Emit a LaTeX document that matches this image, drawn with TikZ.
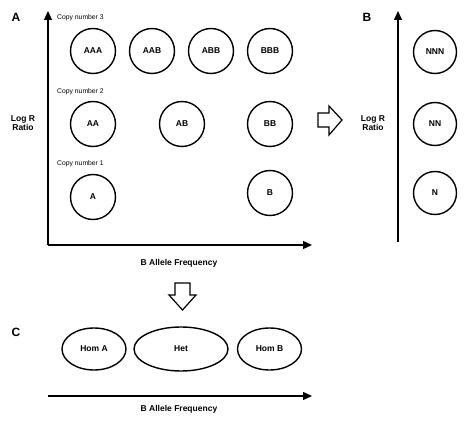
\documentclass[tikz,border=0pt]{standalone}
\usepackage{fontspec}
\setmainfont{Liberation Sans}
\usetikzlibrary{shapes.geometric,arrows.meta}
\begin{document}
\begin{tikzpicture}[x=1pt,y=-1pt,
  circ/.style={draw,circle,line width=1.4pt,minimum size=45pt,inner sep=0pt,font=\fontsize{8.5}{9}\selectfont\bfseries},
  circb/.style={circ,minimum size=43pt},
  ell/.style={draw,ellipse,line width=1.4pt,inner sep=0pt,font=\fontsize{8.5}{9}\selectfont\bfseries},
  axis/.style={line width=1.4pt,-{Triangle[length=9pt,width=8pt]}},
  lab/.style={font=\fontsize{8.5}{9.5}\selectfont\bfseries,align=center},
  cn/.style={font=\fontsize{6.8}{7}\selectfont,anchor=west,inner sep=0pt},
  panel/.style={font=\fontsize{12}{13}\selectfont\bfseries},
  blockarrow/.style={draw,line width=1.2pt,fill=white,line join=miter}]
\useasboundingbox (0,0) rectangle (466,425);
% Panel A
\node[panel] (pA) at (16,17) {A};
\coordinate (aO) at (48,245);
\coordinate (aY) at (48,11);
\coordinate (aX) at (312,245);
\draw[axis] (aO) -- (aY);
\draw[axis] (aO) -- (aX);
\node[cn] (cn3) at (57,18) {Copy number 3};
\node[cn] (cn2) at (57,92) {Copy number 2};
\node[cn] (cn1) at (57,164) {Copy number 1};
\node[circ] (AAA) at (93,51) {AAA};
\node[circ] (AAB) at (152,51) {AAB};
\node[circ] (ABB) at (211,51) {ABB};
\node[circ] (BBB) at (270,51) {BBB};
\node[circ] (AA) at (93,124) {AA};
\node[circ] (AB) at (182,124) {AB};
\node[circ] (BB) at (270,124) {BB};
\node[circ] (A) at (93,197) {A};
\node[circ] (B) at (270,193) {B};
\node[lab] (lrA) at (23,123) {Log R\\Ratio};
\node[lab] (bafA) at (179,263) {B Allele Frequency};
% Panel B
\node[panel] (pB) at (367,17) {B};
\coordinate (bO) at (398,242);
\coordinate (bY) at (398,11);
\draw[axis] (bO) -- (bY);
\node[circb] (NNN) at (435,52) {NNN};
\node[circb] (NN) at (435,124) {NN};
\node[circb] (N) at (435,193) {N};
\node[lab] (lrB) at (373,123) {Log R\\Ratio};
\draw[blockarrow] (318,113) -- (329,113) -- (329,106) -- (342,120) -- (329,135) -- (329,127) -- (318,127) -- cycle;
% Panel C
\draw[blockarrow] (175,283) -- (190,283) -- (190,295) -- (196,295) -- (182.5,310) -- (169,295) -- (175,295) -- cycle;
\node[panel] (pC) at (16,332) {C};
\node[ell,minimum width=64pt,minimum height=42pt] (homA) at (94,349) {Hom A};
\node[ell,minimum width=94pt,minimum height=44pt] (het) at (181,349) {Het};
\node[ell,minimum width=64pt,minimum height=42pt] (homB) at (269.5,349) {Hom B};
\coordinate (cO) at (48,396);
\coordinate (cX) at (312,396);
\draw[axis] (cO) -- (cX);
\node[lab] (bafC) at (179,409) {B Allele Frequency};
\end{tikzpicture}
\end{document}
